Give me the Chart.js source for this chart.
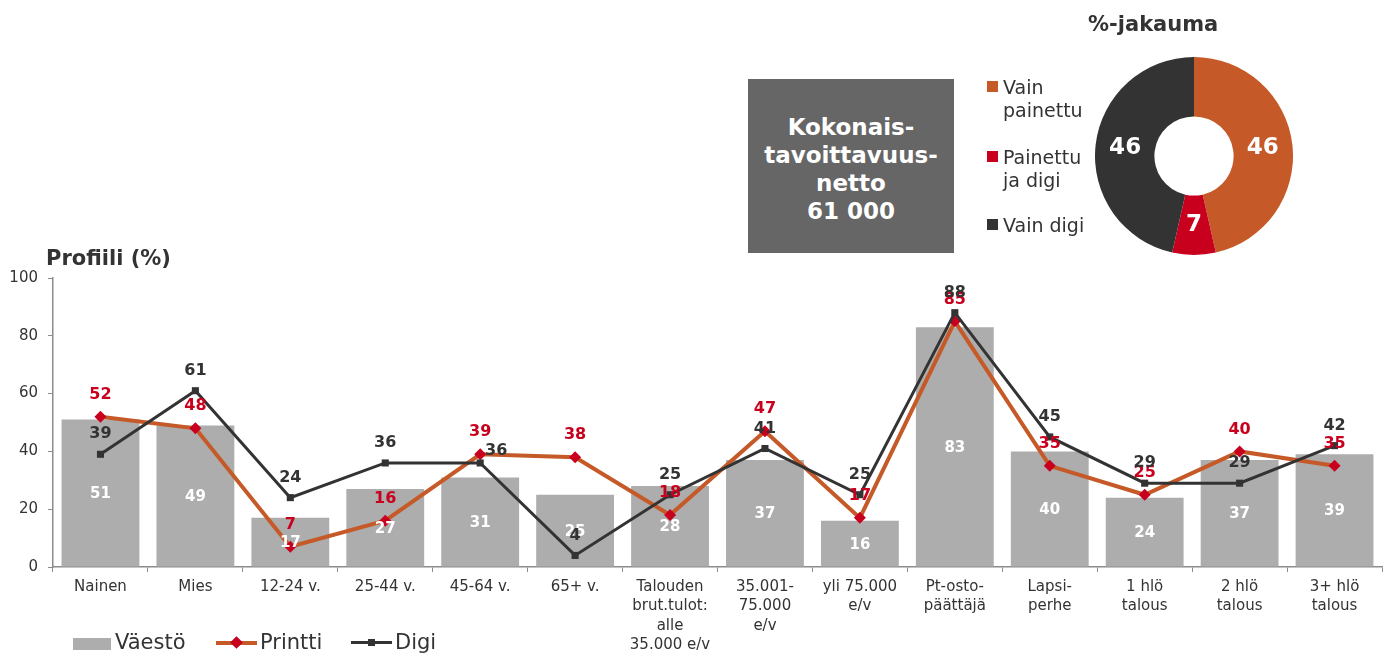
<!DOCTYPE html>
<html><head><meta charset="utf-8">
<script src="https://cdn.jsdelivr.net/npm/chart.js@4.4.1/dist/chart.umd.min.js"></script>
<style>
html,body{margin:0;padding:0;background:#fff;}
body{width:1389px;height:653px;position:relative;overflow:hidden;font-family:"DejaVu Sans",Verdana,sans-serif;color:#333;}
#main{position:absolute;left:0;top:0;}
#pie{position:absolute;left:1095px;top:57px;}
.abs{position:absolute;white-space:nowrap;}
#profiili{left:46px;top:248px;font-size:21px;line-height:21px;font-weight:bold;color:#333;}
#box{left:748px;top:79px;width:206px;height:174px;background:#666;color:#fff;font-weight:bold;font-size:23px;line-height:28px;text-align:center;box-sizing:border-box;padding-top:34px;}
#pieTitle{left:1088px;top:12px;font-size:21px;line-height:24px;font-weight:bold;color:#333;}
.pl{position:absolute;left:987px;font-size:19px;line-height:23px;color:#333;}
.pl .sq{position:absolute;left:0;top:5px;width:11px;height:11px;}
.pl .tx{position:absolute;left:16px;top:0;white-space:nowrap;}
.lg{position:absolute;font-size:21px;line-height:21px;color:#333;white-space:nowrap;}
</style></head><body>
<canvas id="main" width="1389" height="653"></canvas>
<div id="profiili" class="abs">Profiili (%)</div>
<div id="box" class="abs">Kokonais-<br>tavoittavuus-<br>netto<br>61 000</div>
<div id="pieTitle" class="abs">%-jakauma</div>
<div id="pieLegend"></div>
<canvas id="pie" width="198" height="198"></canvas>
<div id="legend"></div>
<script>
// ---- data ----
const categories = [
  "Nainen", "Mies", "12-24 v.", "25-44 v.", "45-64 v.", "65+ v.",
  ["Talouden", "brut.tulot:", "alle", "35.000 e/v"],
  ["35.001-", "75.000", "e/v"],
  ["yli 75.000", "e/v"],
  ["Pt-osto-", "päättäjä"],
  ["Lapsi-", "perhe"],
  ["1 hlö", "talous"],
  ["2 hlö", "talous"],
  ["3+ hlö", "talous"]
];
const vaesto  = [51, 49, 17, 27, 31, 25, 28, 37, 16, 83, 40, 24, 37, 39];
const printti = [52, 48, 7, 16, 39, 38, 18, 47, 17, 85, 35, 25, 40, 35];
const digi    = [39, 61, 24, 36, 36, 4, 25, 41, 25, 88, 45, 29, 29, 42];
const digiLabelSide = ["top","top","top","top","right","top","top","top","top","top","top","top","top","top"];
const yTicks = [0, 20, 40, 60, 80, 100];
const seriesNames = ["Väestö", "Printti", "Digi"];

const pieLabels = [["Vain", "painettu"], ["Painettu", "ja digi"], ["Vain digi"]];
const pieValues = [46, 7, 46];

// ---- colours ----
const C_BAR = "#ADADAD", C_PRINT = "#C55A28", C_PRINT_PT = "#C8001E", C_DIGI = "#333333", C_RED_TXT = "#C8001E";
const pieColors = [C_PRINT, "#C8001E", "#333333"];

// ---- main chart ----
const labelPlugin = {
  id: "valueLabels",
  afterDatasetsDraw(chart) {
    const ctx = chart.ctx;
    ctx.save();
    ctx.textAlign = "center";
    ctx.textBaseline = "middle";
    let meta = chart.getDatasetMeta(0);
    ctx.font = "bold 15px 'DejaVu Sans'";
    ctx.fillStyle = "#fff";
    meta.data.forEach((el, j) => {
      ctx.fillText(String(vaesto[j]), el.x, (el.y + el.base) / 2 + 1);
    });
    meta = chart.getDatasetMeta(1);
    ctx.font = "bold 16px 'DejaVu Sans'";
    ctx.fillStyle = C_RED_TXT;
    meta.data.forEach((el, j) => {
      ctx.fillText(String(printti[j]), el.x, el.y - 22);
    });
    meta = chart.getDatasetMeta(2);
    ctx.fillStyle = C_DIGI;
    meta.data.forEach((el, j) => {
      if (digiLabelSide[j] === "right") ctx.fillText(String(digi[j]), el.x + 16, el.y - 12);
      else ctx.fillText(String(digi[j]), el.x, el.y - 20);
    });
    ctx.restore();
  }
};

new Chart(document.getElementById("main"), {
  type: "bar",
  data: {
    labels: categories,
    datasets: [
      { type: "bar", label: seriesNames[0], data: vaesto, backgroundColor: C_BAR, borderWidth: 0,
        barPercentage: 0.82, categoryPercentage: 1.0, order: 3 },
      { type: "line", label: seriesNames[1], data: printti, borderColor: C_PRINT, borderWidth: 4,
        pointStyle: "rectRot", pointRadius: 6, pointBackgroundColor: C_PRINT_PT, pointBorderColor: C_PRINT_PT,
        pointBorderWidth: 0, tension: 0, fill: false, order: 2 },
      { type: "line", label: seriesNames[2], data: digi, borderColor: C_DIGI, borderWidth: 3,
        pointStyle: "rect", pointRadius: 5, pointBackgroundColor: C_DIGI, pointBorderColor: C_DIGI,
        pointBorderWidth: 0, tension: 0, fill: false, order: 1 }
    ]
  },
  options: {
    responsive: false,
    animation: false,
    layout: { padding: { top: 278, right: 7, left: 0, bottom: 0 } },
    plugins: { legend: { display: false }, tooltip: { enabled: false } },
    scales: {
      x: {
        offset: true,
        grid: { display: true, drawOnChartArea: false, drawTicks: true, tickLength: 5, color: "#8c8c8c", offset: true },
        border: { display: true, color: "#8c8c8c", width: 1.5 },
        ticks: { color: "#333", font: { family: "DejaVu Sans", size: 15, lineHeight: 1.27 },
                 padding: 6, maxRotation: 0, minRotation: 0, autoSkip: false },
        afterFit(s) { s.height = 86; }
      },
      y: {
        min: 0, max: 100,
        afterBuildTicks(s) { s.ticks = yTicks.map(v => ({ value: v })); },
        grid: { display: true, drawOnChartArea: false, drawTicks: true, tickLength: 5, color: "#8c8c8c" },
        border: { display: true, color: "#8c8c8c", width: 1.5 },
        ticks: { color: "#333", font: { family: "DejaVu Sans", size: 15 }, padding: 10 },
        afterFit(s) { s.width = 53; }
      }
    }
  },
  plugins: [labelPlugin]
});

// ---- doughnut ----
const pieLabelPlugin = {
  id: "pieLabels",
  afterDatasetsDraw(chart) {
    const ctx = chart.ctx;
    ctx.save();
    ctx.font = "bold 23px 'DejaVu Sans'";
    ctx.fillStyle = "#fff";
    ctx.textAlign = "center";
    ctx.textBaseline = "middle";
    chart.getDatasetMeta(0).data.forEach((el, i) => {
      const p = el.tooltipPosition();
      ctx.fillText(String(pieValues[i]), p.x, p.y);
    });
    ctx.restore();
  }
};
new Chart(document.getElementById("pie"), {
  type: "doughnut",
  data: { labels: pieLabels.map(l => l.join(" ")),
          datasets: [{ data: pieValues, backgroundColor: pieColors, borderWidth: 0 }] },
  options: { responsive: false, animation: false, cutout: "40%",
             layout: { padding: 0 },
             plugins: { legend: { display: false }, tooltip: { enabled: false } } },
  plugins: [pieLabelPlugin]
});

// ---- doughnut legend (html) ----
const pieLegendTops = [76, 146, 214];
const pl = document.getElementById("pieLegend");
pieLabels.forEach((lines, i) => {
  const d = document.createElement("div");
  d.className = "pl";
  d.style.top = pieLegendTops[i] + "px";
  d.innerHTML = '<div class="sq" style="background:' + pieColors[i] + '"></div><div class="tx">' + lines.join("<br>") + "</div>";
  pl.appendChild(d);
});

// ---- bottom legend (html) ----
const lg = document.getElementById("legend");
lg.innerHTML =
  '<div class="abs" style="left:73px;top:638px;width:38px;height:12px;background:' + C_BAR + '"></div>' +
  '<div class="lg" style="left:115px;top:632px">' + seriesNames[0] + '</div>' +
  '<div class="abs" style="left:216px;top:641px;width:41px;height:4px;background:' + C_PRINT + '"></div>' +
  '<div class="abs" style="left:232px;top:638px;width:9px;height:9px;background:' + C_PRINT_PT + ';transform:rotate(45deg)"></div>' +
  '<div class="lg" style="left:260px;top:632px">' + seriesNames[1] + '</div>' +
  '<div class="abs" style="left:351px;top:641px;width:41px;height:3px;background:' + C_DIGI + '"></div>' +
  '<div class="abs" style="left:368px;top:639px;width:7px;height:7px;background:' + C_DIGI + '"></div>' +
  '<div class="lg" style="left:395px;top:632px">' + seriesNames[2] + '</div>';
</script>
</body></html>
